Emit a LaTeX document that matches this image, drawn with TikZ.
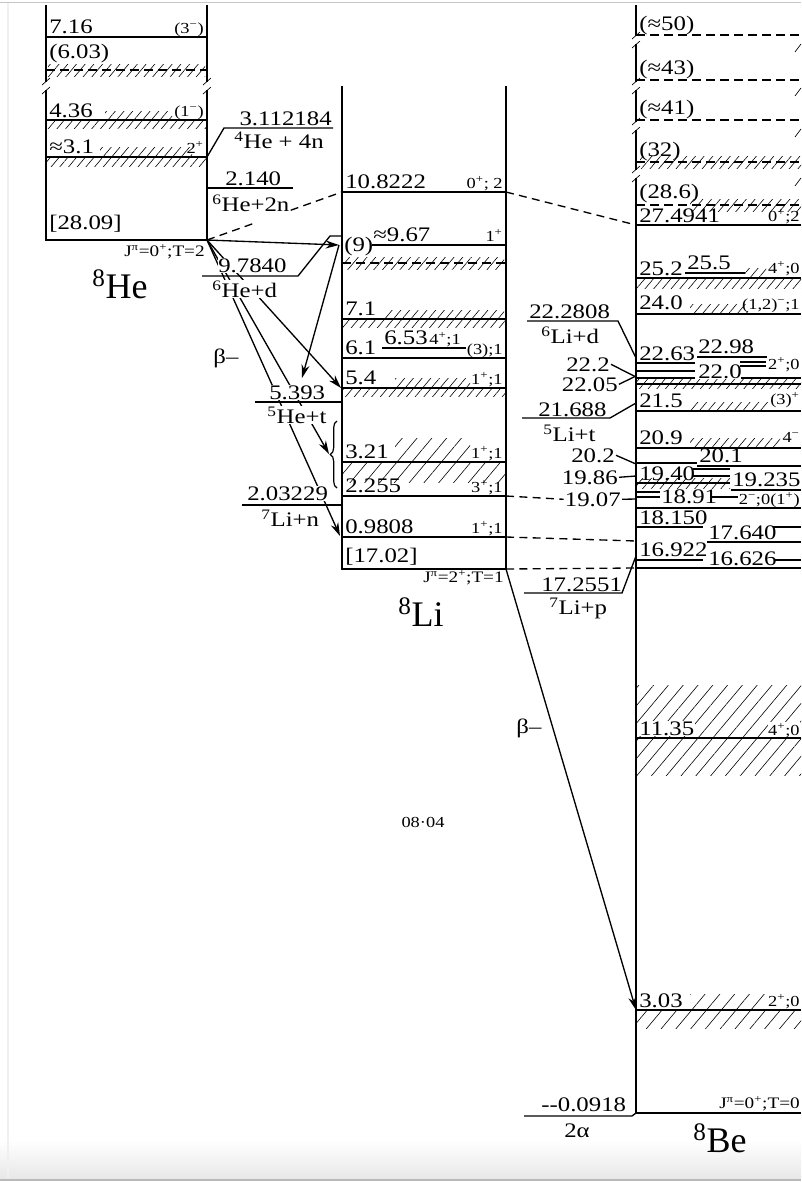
\documentclass[tikz,border=0pt]{standalone}
\usepackage{fontspec}
\setmainfont{Liberation Serif}[FakeStretch=1.2]
\newfontfamily\nuclfont{Liberation Serif}
\usetikzlibrary{calc, arrows.meta, patterns.meta, decorations.pathreplacing}

\begin{document}
\begin{tikzpicture}[x=0.75pt, y=-0.75pt, line width=1pt,
  lvl/.style={font=\fontsize{15.5}{16}\selectfont, inner sep=0.5pt},
  spin/.style={font=\fontsize{11.5}{12}\selectfont, inner sep=0.5pt},
  jt/.style={font=\fontsize{12}{13}\selectfont, inner sep=0.5pt},
  nucl/.style={font=\nuclfont\fontsize{27}{29}\selectfont, inner sep=0pt},
  mask/.style={fill=white},
  hatch/.style={pattern={Lines[angle=50, distance=5pt, line width=0.45pt]}},
  whatch/.style={pattern={Lines[angle=50, distance=8.5pt, line width=0.45pt]}},
  dlevel/.style={dash pattern=on 7pt off 3.5pt},
  link/.style={dash pattern=on 6pt off 4pt},
  decay/.style={-{Stealth[length=10pt, width=6pt]}},
  brk/.style={line width=0.5pt}]
  \useasboundingbox (0,0) rectangle (801,1182);
  \shade[top color=white, bottom color=gray!18] (0,1140) rectangle (801,1178);
  \draw[gray!55, line width=1.5pt] (0,1180) -- (801,1180);
  \draw[gray!45, line width=1pt] (0,2.5) -- (801,2.5);
  \draw[gray!12, line width=1pt] (8,3) -- (8,1178);

  \coordinate (heTL) at (46,5);
  \coordinate (heBL) at (46,240);
  \coordinate (heG) at (207,240);
  \coordinate (heTR) at (207,5);
  \coordinate (liTL) at (342,86);
  \coordinate (liBL) at (342,569);
  \coordinate (liGR) at (506,569);
  \coordinate (liTR) at (506,86);
  \coordinate (beT) at (636,5);
  \coordinate (beG) at (636,1113);
  \coordinate (beGR) at (801,1113);
  \coordinate (li9) at (339,245);
  \coordinate (li54) at (341,388);
  \coordinate (librace) at (329,454);
  \coordinate (li098) at (340,536);
  \coordinate (li108L) at (342,192);
  \coordinate (li108R) at (506,192);
  \coordinate (li2255R) at (506,496);
  \coordinate (li098R) at (506,537);
  \coordinate (t5393) at (302,378);
  \coordinate (be274) at (636,225);
  \coordinate (be222) at (636,377);
  \coordinate (be2205) at (636,376);
  \coordinate (be202) at (636,464);
  \coordinate (be1986) at (636,476);
  \coordinate (be1907) at (636,499);
  \coordinate (be1798) at (636,541);
  \coordinate (be169) at (636,568);
  \coordinate (be303) at (636,1010);

  \path[hatch] (48,64) rectangle (205,76);
  \path[hatch] (105,111) rectangle (172,120);
  \path[hatch] (47,120) rectangle (206,128);
  \path[hatch] (100,147) rectangle (192,157);
  \path[hatch] (47,157) rectangle (206,166);
  \path[hatch] (344,257) rectangle (504,269);
  \path[hatch] (385,310) rectangle (504,319);
  \path[hatch] (343,319) rectangle (505,327);
  \path[hatch] (395,378) rectangle (470,388);
  \path[hatch] (343,388) rectangle (505,396);
  \path[whatch] (395,438) rectangle (470,462);
  \path[whatch] (343,462) rectangle (505,482);
  \path[hatch] (640,156) rectangle (801,168);
  \path[hatch] (690,199) rectangle (801,211);
  \path[hatch] (745,268) rectangle (766,278);
  \path[hatch] (637,278) rectangle (801,288);
  \path[hatch] (690,304) rectangle (748,314);
  \path[hatch] (637,379) rectangle (801,388);
  \path[hatch] (690,402) rectangle (768,411);
  \path[hatch] (690,438) rectangle (780,448);
  \path[hatch] (637,478) rectangle (730,488);
  \path[whatch] (637,685) rectangle (801,775);
  \path[whatch] (690,994) rectangle (766,1010);
  \path[whatch] (637,1010) rectangle (801,1028);

  \draw[decay] (heG) -- (li9);
  \draw[decay] (heG) -- (li54);
  \draw[decay] (heG) -- (librace);
  \draw[decay] (heG) -- (li098);
  \draw[decay] (li9) -- (t5393);
  \draw[decay] (liGR) -- (be303);
  \draw[link] (heG) -- ($(heG)!0.34!(li108L)$);
  \draw[link] ($(heG)!0.62!(li108L)$) -- (li108L);
  \draw[link] (li108R) -- (be274);
  \draw[link] (li098R) -- (be1798);
  \draw[link] (liGR) -- (be169);

  \node[lvl, anchor=base west] (he716) at (48,33) {7.16};
  \node[spin, anchor=base east] (he716j) at (205,33) {(3\textsuperscript{−})};
  \node[lvl, anchor=base west] (he603) at (48,58) {(6.03)};
  \node[lvl, anchor=base west] (he436) at (48,117) {4.36};
  \node[spin, anchor=base east] (he436j) at (205,116) {(1\textsuperscript{−})};
  \node[lvl, anchor=base west] (he31) at (48,153) {≈3.1};
  \node[spin, anchor=base east] (he31j) at (205,153) {2\textsuperscript{+}};
  \node[lvl, anchor=base west] (he0) at (48,229) {[28.09]};
  \node[jt, anchor=base east] (heJT) at (206,256) {J\textsuperscript{π}=0\textsuperscript{+};T=2};
  \node[nucl] (heName) at (120,284) {\textsuperscript{8}He};

  \node[lvl, anchor=base east] (t3112) at (333,125) {3.112184};
  \node[lvl, anchor=base] (t3112r) at (279,148) {\textsuperscript{4}He + 4n};
  \node[lvl, anchor=base west] (t2140) at (224,185) {2.140};
  \node[lvl, anchor=base west] (t2140r) at (211,211) {\textsuperscript{6}He+2n};
  \node[lvl, mask, anchor=base west] (t9784) at (217,272) {9.7840};
  \node[lvl, mask, anchor=base west] (t9784r) at (211,297) {\textsuperscript{6}He+d};
  \node[lvl, mask, anchor=base west] (t5393l) at (268,399) {5.393};
  \node[lvl, mask, anchor=base west] (t5393r) at (266,423) {\textsuperscript{5}He+t};
  \node[lvl, mask, anchor=base west] (t2032) at (246,500) {2.03229};
  \node[lvl, mask, anchor=base west] (t2032r) at (260,526) {\textsuperscript{7}Li+n};
  \node[lvl] (betaHe) at (226,358) {β–};

  \node[lvl, anchor=base west] (li108) at (344,188) {10.8222};
  \node[spin, anchor=base east] (li108j) at (504,188) {0\textsuperscript{+}; 2};
  \node[lvl, anchor=base west] (li967) at (372,241) {≈9.67};
  \node[spin, anchor=base east] (li967j) at (504,241) {1\textsuperscript{+}};
  \node[lvl, anchor=base west] (li9l) at (343,251) {(9)};
  \node[lvl, anchor=base west] (li71) at (344,315) {7.1};
  \node[lvl, anchor=base west] (li653) at (383,344) {6.53};
  \node[spin, anchor=base west] (li653j) at (428,344) {4\textsuperscript{+};1};
  \node[spin, anchor=base east] (li61j) at (504,354) {(3);1};
  \node[lvl, anchor=base west] (li61) at (344,354) {6.1};
  \node[lvl, anchor=base west] (li54l) at (344,384) {5.4};
  \node[spin, anchor=base east] (li54j) at (504,384) {1\textsuperscript{+};1};
  \node[lvl, anchor=base west] (li321) at (344,458) {3.21};
  \node[spin, anchor=base east] (li321j) at (504,458) {1\textsuperscript{+};1};
  \node[lvl, anchor=base west] (li2255) at (344,492) {2.255};
  \node[spin, anchor=base east] (li2255j) at (504,492) {3\textsuperscript{+};1};
  \node[lvl, anchor=base west] (li098l) at (344,533) {0.9808};
  \node[spin, anchor=base east] (li098j) at (504,533) {1\textsuperscript{+};1};
  \node[lvl, anchor=base west] (li0) at (344,562) {[17.02]};
  \node[jt, anchor=base east] (liJT) at (505,582) {J\textsuperscript{π}=2\textsuperscript{+};T=1};
  \node[nucl] (liName) at (421,612) {\textsuperscript{8}Li};

  \node[lvl, anchor=base west] (t2228) at (528,318) {22.2808};
  \node[lvl, anchor=base west] (t2228r) at (540,343) {\textsuperscript{6}Li+d};
  \node[lvl, anchor=base east] (b222) at (611,371) {22.2};
  \node[lvl, anchor=base east] (b2205) at (619,391) {22.05};
  \node[lvl, anchor=base west] (t2169) at (537,416) {21.688};
  \node[lvl, anchor=base west] (t2169r) at (542,441) {\textsuperscript{5}Li+t};
  \node[lvl, anchor=base east] (b202) at (616,462) {20.2};
  \node[lvl, anchor=base east] (b1986) at (619,484) {19.86};
  \node[lvl, anchor=base east] (b1907) at (622,506) {19.07};
  \node[lvl, anchor=base west] (t1726) at (540,591) {17.2551};
  \node[lvl, anchor=base west] (t1726r) at (548,614) {\textsuperscript{7}Li+p};
  \node[lvl] (betaLi) at (529,728) {β–};
  \node[spin] (fignum) at (423,822) {08·04};

  \node[lvl, anchor=base west] (be50) at (638,30) {(≈50)};
  \node[lvl, anchor=base west] (be43) at (638,74) {(≈43)};
  \node[lvl, anchor=base west] (be41) at (638,114) {(≈41)};
  \node[lvl, anchor=base west] (be32) at (638,156) {(32)};
  \node[lvl, anchor=base west] (be286) at (638,198) {(28.6)};
  \node[lvl, anchor=base west] (be2749) at (638,222) {27.4941};
  \node[spin, anchor=base east] (be2749j) at (801,221) {0\textsuperscript{+};2};
  \node[lvl, anchor=base west] (be252) at (638,275) {25.2};
  \node[lvl, anchor=base west] (be255) at (686,269) {25.5};
  \node[spin, anchor=base east] (be255j) at (801,273) {4\textsuperscript{+};0};
  \node[lvl, anchor=base west] (be240) at (638,309) {24.0};
  \node[spin, anchor=base east] (be240j) at (801,309) {(1,2)\textsuperscript{−};1};
  \node[lvl, anchor=base west] (be2263) at (638,360) {22.63};
  \node[lvl, anchor=base west] (be2298) at (697,353) {22.98};
  \node[lvl, anchor=base west] (be220) at (697,378) {22.0};
  \node[spin, anchor=base east] (be220j) at (801,369) {2\textsuperscript{+};0};
  \node[lvl, anchor=base west] (be215) at (638,407) {21.5};
  \node[spin, anchor=base east] (be215j) at (801,404) {(3)\textsuperscript{+}};
  \node[lvl, anchor=base west] (be209) at (638,444) {20.9};
  \node[spin, anchor=base east] (be209j) at (801,442) {4\textsuperscript{−}};
  \node[lvl, anchor=base west] (be201) at (698,462) {20.1};
  \node[lvl, anchor=base west] (be1940) at (638,480) {19.40};
  \node[lvl, anchor=base west] (be19235) at (731,486) {19.235};
  \node[spin, anchor=base east] (be1891j) at (801,504) {2\textsuperscript{−};0(1\textsuperscript{+})};
  \node[lvl, anchor=base west] (be1891) at (660,503) {18.91};
  \node[lvl, anchor=base west] (be18150) at (638,524) {18.150};
  \node[lvl, anchor=base west] (be17640) at (707,539) {17.640};
  \node[lvl, anchor=base west] (be16922) at (638,556) {16.922};
  \node[lvl, anchor=base west] (be16626) at (707,565) {16.626};
  \node[lvl, mask, anchor=base west] (be1135) at (638,735) {11.35};
  \node[spin, mask, anchor=base east] (be1135j) at (801,735) {4\textsuperscript{+};0};
  \node[lvl, anchor=base west] (be303l) at (638,1007) {3.03};
  \node[spin, anchor=base east] (be303j) at (801,1006) {2\textsuperscript{+};0};
  \node[jt, anchor=base east] (beJT) at (801,1108) {J\textsuperscript{π}=0\textsuperscript{+};T=0};
  \node[lvl, anchor=base west] (t2a) at (540,1111) {-{}-0.0918};
  \node[lvl, anchor=base west] (t2ar) at (563,1137) {2α};
  \node[nucl] (beName) at (720,1138) {\textsuperscript{8}Be};

  \draw (b222.east) -- (be222);
  \draw (b2205.east) -- (be2205);
  \draw (b202.east) -- (be202);
  \draw (b1986.east) -- (be1986);
  \draw (b1907.east) -- (be1907);
  \draw[link] (li2255R) -- (b1907.west);

  \draw (heTL) -- (heBL) -- (heG) -- (heTR);
  \draw (46,37) -- (207,37);
  \draw[dlevel] (46,70) -- (207,70);
  \draw (46,120) -- (207,120);
  \draw (46,157) -- (207,157);
  \draw (207,157) -- (224,128) -- (333,128);
  \draw (207,188) -- (293,188);
  \draw (202,276) -- (298,276) -- (330,236) -- (342,236);
  \draw (255,402) -- (342,402);
  \draw (242,505) -- (342,505);

  \draw (liTL) -- (liBL) -- (liGR) -- (liTR);
  \draw (342,192) -- (506,192);
  \draw (372,245) -- (506,245);
  \draw[dlevel] (342,263) -- (506,263);
  \draw (342,319) -- (506,319);
  \draw (382,348) -- (466,348);
  \draw (342,358) -- (506,358);
  \draw (342,388) -- (506,388);
  \draw (342,462) -- (506,462);
  \draw (342,496) -- (506,496);
  \draw (342,537) -- (506,537);
  \draw[line width=0.9pt, decorate, decoration={brace, amplitude=5pt}] (337,488) -- (337,421);

  \draw (527,321) -- (618,321) -- (636,358);
  \draw (522,418) -- (610,418) -- (636,403);
  \draw (524,593) -- (622,593) -- (636,556);
  \draw (524,1116) -- (632,1116) -- (636,1113);

  \draw (beT) -- (beG) -- (beGR);
  \draw[dlevel] (636,35) -- (801,35);
  \draw[dlevel] (636,80) -- (801,80);
  \draw[dlevel] (636,120) -- (801,120);
  \draw[dlevel] (636,162) -- (801,162);
  \draw[dlevel] (636,205) -- (801,205);
  \draw (636,225) -- (801,225);
  \draw (685,273) -- (745,273);
  \draw (636,278) -- (801,278);
  \draw (636,314) -- (801,314);
  \draw (697,357) -- (767,357);
  \draw (636,363) -- (695,363);
  \draw (740,362) -- (766,362);
  \draw (740,366) -- (766,366);
  \draw (636,371) -- (695,371);
  \draw (636,378) -- (695,378);
  \draw (741,378) -- (801,378);
  \draw (636,384) -- (801,384);
  \draw (636,411) -- (801,411);
  \draw (636,448) -- (801,448);
  \draw (636,463) -- (697,463);
  \draw (697,466) -- (801,466);
  \draw (693,469) -- (730,469);
  \draw (693,476) -- (730,476);
  \draw (636,483) -- (730,483);
  \draw (731,490) -- (801,490);
  \draw (636,492) -- (660,492);
  \draw (636,497) -- (660,497);
  \draw (711,497) -- (738,497);
  \draw (636,508) -- (801,508);
  \draw (636,527) -- (703,527);
  \draw (773,527) -- (801,527);
  \draw (707,542) -- (801,542);
  \draw (636,560) -- (703,560);
  \draw (775,560) -- (801,560);
  \draw (636,568) -- (801,568);
  \draw (636,738) -- (801,738);
  \draw (636,1010) -- (801,1010);

  \foreach \bx/\by in {46/86, 207/86, 636/40, 636/86, 636/126, 636/174} {
    \fill[white] (\bx-3,\by-4) rectangle (\bx+3,\by+4);
    \draw[brk] (\bx-4,\by-1) -- (\bx+4,\by-8);
    \draw[brk] (\bx-4,\by+8) -- (\bx+4,\by+1);
  }
  \foreach \by in {48, 92, 133, 182}
    \draw[brk] (795,\by+4) -- (801,\by-4);
\end{tikzpicture}
\end{document}
